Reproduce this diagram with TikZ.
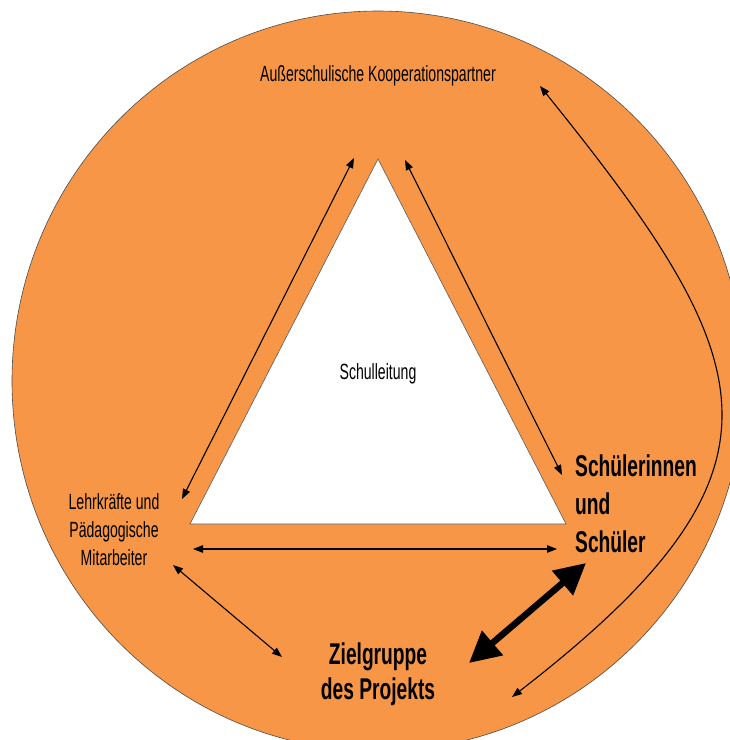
\documentclass[tikz,border=0pt]{standalone}
\usepackage{fontspec}
\setmainfont{Liberation Sans}
\newfontfamily\narrowfont[FakeStretch=0.64]{Liberation Sans}
\usetikzlibrary{arrows.meta}
\definecolor{ringorange}{HTML}{F79646}

\begin{document}
\begin{tikzpicture}[x=1pt, y=-1pt]
      \tikzset{thinlabel/.style = {font=\narrowfont\fontsize{22}{28}\selectfont, inner sep=0pt, align=center}}
      \tikzset{boldlabel/.style = {font=\narrowfont\bfseries\fontsize{30}{38}\selectfont, inner sep=0pt}}
      \tikzset{edge/.style = {<->, >={Triangle[length=10pt,width=7.5pt]}, line width=1.1pt}}
      \tikzset{strongedge/.style = {<->, >={Triangle[length=31pt,width=31pt]}, line width=6.5pt}}
      \useasboundingbox (0, 0) rectangle (730, 740);
      \clip (0, 0) rectangle (730, 740);
      \draw[fill=ringorange, draw=black!70, line width=0.6pt] (378, 381) ellipse [x radius=366, y radius=370];
      \coordinate (apex) at (378, 159);
      \coordinate (basel) at (190, 524);
      \coordinate (baser) at (566, 524);
      \draw[fill=white, draw=black!65, line width=0.6pt] (apex) -- (basel) -- (baser) -- cycle;
      \node[thinlabel, anchor=base] (kp) at (378, 81) {Außerschulische Kooperationspartner};
      \node[thinlabel, anchor=base] (sl) at (378, 379) {Schulleitung};
      \node[thinlabel, anchor=north] (lk) at (114, 493) {Lehrkräfte und\\Pädagogische\\Mitarbeiter};
      \node[boldlabel, anchor=north west, align=left] (ss) at (575, 455) {Schülerinnen\\und\\Schüler};
      \node[boldlabel, anchor=north, align=center, font=\narrowfont\bfseries\fontsize{30}{35}\selectfont] (zg) at (378, 643) {Zielgruppe\\des Projekts};
      \coordinate (kpl) at (354, 158);
      \coordinate (kpr) at (405, 160);
      \coordinate (kpc) at (540, 86);
      \coordinate (lkt) at (182, 499);
      \coordinate (lkr) at (193, 549);
      \coordinate (lkb) at (173, 565);
      \coordinate (sst) at (562, 475);
      \coordinate (ssl) at (557, 549);
      \coordinate (ssb) at (586, 563);
      \coordinate (zgl) at (282, 657);
      \coordinate (zgr) at (469, 663);
      \coordinate (zgc) at (512, 697);
      \draw[edge] (lkt) to (kpl);
      \draw[edge] (kpr) to (sst);
      \draw[edge] (lkr) to (ssl);
      \draw[edge] (lkb) to (zgl);
      \draw[strongedge] (zgr) to (ssb);
      \draw[edge] (kpc) .. controls (765, 365) and (805, 470) .. (zgc);
\end{tikzpicture}
\end{document}
